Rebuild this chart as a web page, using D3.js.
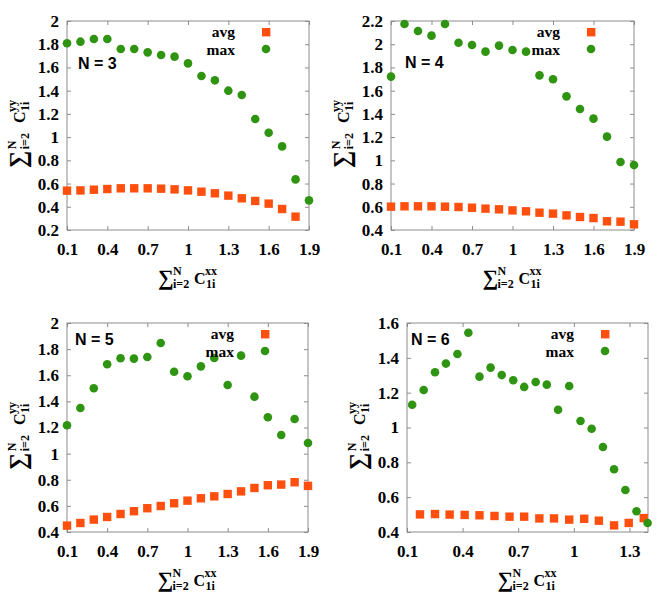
<!DOCTYPE html>
<html>
<head>
<meta charset="utf-8">
<script src="https://cdn.jsdelivr.net/npm/d3@7"></script>
<style>
  body { margin: 0; background: #fff; }
  text { font-family: "Liberation Serif", "Times New Roman", serif; font-weight: bold; fill: #000; }
  text.nlab { font-family: "Liberation Sans", Arial, sans-serif; font-size: 16px; }
</style>
</head>
<body>
<div id="chart"></div>
<script>
// x values shared by N = 3, 4, 5
var xs = [0.1, 0.2, 0.3, 0.4, 0.5, 0.6, 0.7, 0.8, 0.9, 1.0, 1.1, 1.2, 1.3, 1.4, 1.5, 1.6, 1.7, 1.8, 1.9];

var n3Avg = [0.539, 0.541, 0.547, 0.553, 0.559, 0.559, 0.559, 0.556, 0.550, 0.541, 0.530, 0.516, 0.496, 0.473, 0.450, 0.427, 0.381, 0.315];
var n3Max = [1.808, 1.822, 1.845, 1.845, 1.759, 1.759, 1.730, 1.707, 1.693, 1.635, 1.526, 1.489, 1.400, 1.363, 1.156, 1.038, 0.920, 0.636, 0.455];

var n4Avg = [0.601, 0.604, 0.604, 0.604, 0.601, 0.598, 0.592, 0.584, 0.578, 0.569, 0.561, 0.549, 0.541, 0.526, 0.512, 0.503, 0.475, 0.472, 0.449];
var n4Max = [1.721, 2.174, 2.114, 2.074, 2.174, 2.013, 1.993, 1.936, 1.988, 1.950, 1.936, 1.732, 1.698, 1.551, 1.442, 1.359, 1.204, 0.986, 0.960];

var n5Avg = [0.449, 0.469, 0.495, 0.515, 0.538, 0.559, 0.582, 0.599, 0.620, 0.640, 0.658, 0.673, 0.691, 0.711, 0.737, 0.758, 0.763, 0.781, 0.753];
var n5Max = [1.217, 1.349, 1.500, 1.684, 1.730, 1.727, 1.740, 1.847, 1.627, 1.592, 1.668, 1.732, 1.525, 1.750, 1.436, 1.278, 1.143, 1.265, 1.081];

var n6AvgX = [0.170, 0.251, 0.330, 0.411, 0.491, 0.572, 0.653, 0.732, 0.814, 0.893, 0.975, 1.056, 1.135, 1.217, 1.296, 1.377];
var n6Avg  = [0.501, 0.503, 0.500, 0.498, 0.496, 0.492, 0.488, 0.488, 0.478, 0.478, 0.471, 0.476, 0.465, 0.438, 0.452, 0.480];
var n6MaxX = [0.128, 0.190, 0.251, 0.310, 0.372, 0.431, 0.491, 0.551, 0.611, 0.673, 0.732, 0.794, 0.854, 0.915, 0.975, 1.036, 1.096, 1.157, 1.217, 1.278, 1.338, 1.398];
var n6Max  = [1.131, 1.215, 1.317, 1.367, 1.422, 1.544, 1.292, 1.344, 1.301, 1.271, 1.233, 1.261, 1.246, 1.102, 1.238, 1.037, 0.993, 0.888, 0.760, 0.641, 0.519, 0.452];

var xTicksLong = [0.1, 0.4, 0.7, 1, 1.3, 1.6, 1.9];
var xTicksShort = [0.1, 0.4, 0.7, 1, 1.3];
var yTicks3 = [0.2, 0.4, 0.6, 0.8, 1, 1.2, 1.4, 1.6, 1.8, 2];
var yTicks4 = [0.4, 0.6, 0.8, 1, 1.2, 1.4, 1.6, 1.8, 2, 2.2];
var yTicks5 = [0.4, 0.6, 0.8, 1, 1.2, 1.4, 1.6, 1.8, 2];
var yTicks6 = [0.4, 0.6, 0.8, 1, 1.2, 1.4, 1.6];

var orange = "#ff4f0f";
var green = "#2f9412";
var frame = "#8c8c8c";
var serif = "Liberation Serif, Times New Roman, serif";

var panels = [
  { label: "N = 3", box: [67, 309, 21, 230], xd: [0.1, 1.9], yd: [0.2, 2], xt: xTicksLong, yt: yTicks3,
    avgX: xs, avg: n3Avg, maxX: xs, max: n3Max, nx: 11, ny: 48 },
  { label: "N = 4", box: [391, 634, 21, 230], xd: [0.1, 1.9], yd: [0.4, 2.2], xt: xTicksLong, yt: yTicks4,
    avgX: xs, avg: n4Avg, maxX: xs, max: n4Max, nx: 14, ny: 47 },
  { label: "N = 5", box: [67, 308, 323, 532], xd: [0.1, 1.9], yd: [0.4, 2], xt: xTicksLong, yt: yTicks5,
    avgX: xs, avg: n5Avg, maxX: xs, max: n5Max, nx: 8, ny: 22 },
  { label: "N = 6", box: [407, 648, 323, 532], xd: [0.1, 1.4], yd: [0.4, 1.6], xt: xTicksShort, yt: yTicks6,
    avgX: n6AvgX, avg: n6Avg, maxX: n6MaxX, max: n6Max, nx: 4, ny: 22 }
];

var svg = d3.select("#chart").append("svg")
  .attr("width", 664)
  .attr("height", 605);

var fmt = d3.format("~g");

// summation label: sum_{i=2}^N C_{1i}^{sup}
function sumLabel(g, sup, big) {
  var s = big ? 1.25 : 1;
  g.append("text").attr("x", 0).attr("y", 1).style("font-size", (big ? 24 : 22) + "px").text("\u2211");
  g.append("text").attr("x", 15 * s).attr("y", -9).style("font-size", "12px").text("N");
  g.append("text").attr("x", 15 * s).attr("y", 4).style("font-size", "12px").text("i=2");
  g.append("text").attr("x", 36 * s).attr("y", 0).style("font-size", "16px").text("C");
  g.append("text").attr("x", 36 * s + 11).attr("y", -9).style("font-size", "12px").text(sup);
  g.append("text").attr("x", 36 * s + 12).attr("y", 4).style("font-size", "12px").text("1i");
  g.selectAll("text").attr("font-family", serif).attr("font-weight", "bold");
}

panels.forEach(function(p) {
  var l = p.box[0], r = p.box[1], t = p.box[2], b = p.box[3];
  var x = d3.scaleLinear().domain(p.xd).range([l, r]);
  var y = d3.scaleLinear().domain(p.yd).range([b, t]);
  var g = svg.append("g");

  // ticks on all four sides, pointing inward
  var axB = g.append("g").attr("transform", "translate(0," + b + ")")
    .call(d3.axisBottom(x).tickValues(p.xt).tickSize(-4).tickPadding(9).tickFormat(fmt));
  var axT = g.append("g").attr("transform", "translate(0," + t + ")")
    .call(d3.axisTop(x).tickValues(p.xt).tickSize(-4).tickFormat(""));
  var axL = g.append("g").attr("transform", "translate(" + l + ",0)")
    .call(d3.axisLeft(y).tickValues(p.yt).tickSize(-4).tickPadding(8).tickFormat(fmt));
  var axR = g.append("g").attr("transform", "translate(" + r + ",0)")
    .call(d3.axisRight(y).tickValues(p.yt).tickSize(-4).tickFormat(""));
  [axB, axT, axL, axR].forEach(function(a) {
    a.attr("font-family", serif).attr("font-size", 17).attr("font-weight", "bold");
    a.select(".domain").remove();
    a.selectAll(".tick line").attr("stroke", frame);
    a.selectAll(".tick text").attr("fill", "#000");
  });
  axB.selectAll(".tick text").attr("dy", "0.95em");

  g.append("rect")
    .attr("x", l).attr("y", t)
    .attr("width", r - l).attr("height", b - t)
    .attr("fill", "none").attr("stroke", frame).attr("stroke-width", 1);

  // avg squares
  g.selectAll(".avg").data(p.avg).enter().append("rect")
    .attr("class", "avg")
    .attr("x", function(d, i) { return x(p.avgX[i]) - 4.2; })
    .attr("y", function(d) { return y(d) - 4.2; })
    .attr("width", 8.4).attr("height", 8.4)
    .attr("fill", orange);

  // max circles
  g.selectAll(".max").data(p.max).enter().append("circle")
    .attr("class", "max")
    .attr("cx", function(d, i) { return x(p.maxX[i]); })
    .attr("cy", function(d) { return y(d); })
    .attr("r", 4.3)
    .attr("fill", green);

  // legend
  g.append("text").attr("x", r - 74).attr("y", t + 15.5).attr("text-anchor", "end")
    .attr("font-family", serif).style("font-size", "15.5px").text("avg");
  g.append("rect").attr("x", r - 47).attr("y", t + 7).attr("width", 8.4).attr("height", 8.4).attr("fill", orange);
  g.append("text").attr("x", r - 74).attr("y", t + 33.5).attr("text-anchor", "end")
    .attr("font-family", serif).style("font-size", "15.5px").text("max");
  g.append("circle").attr("cx", r - 43).attr("cy", t + 28).attr("r", 4.3).attr("fill", green);

  g.append("text").attr("class", "nlab")
    .attr("x", l + p.nx).attr("y", t + p.ny)
    .text(p.label);

  // axis titles
  var xt = g.append("g").attr("transform", "translate(" + ((l + r) / 2 - 30) + "," + (b + 54) + ")");
  sumLabel(xt, "xx", false);
  var yt = g.append("g").attr("transform", "translate(" + (l - 42) + "," + (b - 62) + ") rotate(-90)");
  sumLabel(yt, "yy", true);
});
</script>
</body>
</html>
